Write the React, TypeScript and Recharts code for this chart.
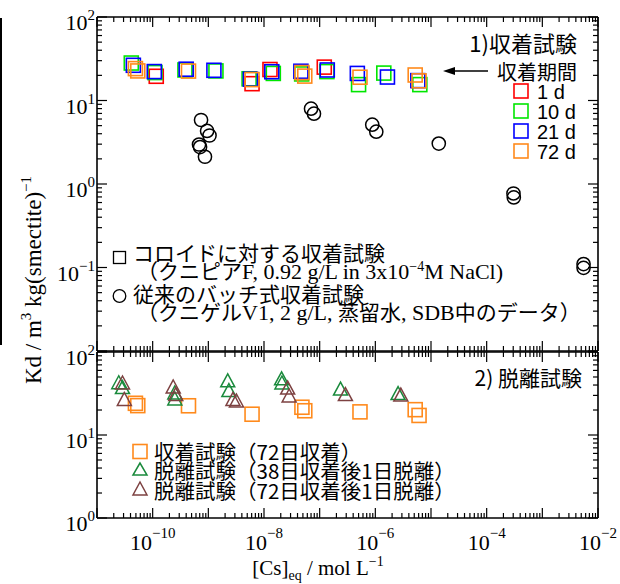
import { ScatterChart, Scatter, XAxis, YAxis } from "recharts";

// 1) sorption test, colloid data (Kd vs equilibrium Cs), one array per contact period
const cs1d = [1.16e-10, 6.1e-9, 1.28e-8, 1.21e-7];
const kd1d = [19.5, 15.9, 23.5, 25.1];
const cs10d = [4.13e-11, 1.1e-10, 3.8e-10, 1.37e-9, 5.4e-9, 1.47e-8, 4.75e-8, 1.35e-7, 5.0e-7, 1.42e-6, 6.3e-6];
const kd10d = [28.1, 21.6, 23.2, 22.6, 18.2, 21.1, 20.8, 22.2, 15.5, 21.3, 15.5];
const cs21d = [4.5e-11, 1.07e-10, 4.0e-10, 1.26e-9, 5.7e-9, 1.38e-8, 4.6e-8, 1.37e-7, 4.75e-7, 1.65e-6, 5.8e-6];
const kd21d = [26.4, 22.2, 23.7, 23.0, 18.0, 22.1, 22.4, 23.2, 21.1, 19.1, 17.3];
const cs72d = [4.9e-11, 5.4e-11, 4.4e-10, 6.1e-9, 4.8e-8, 5.4e-8, 5.3e-7, 5.2e-6, 6.1e-6];
const kd72d = [24.1, 22.6, 22.5, 17.8, 21.6, 19.6, 19.0, 20.2, 17.2];

// conventional batch sorption (SDB)
const csBatch = [7.4e-10, 9.5e-10, 1.05e-9, 6.8e-10, 7.1e-10, 8.7e-10, 7.0e-8, 7.9e-8, 8.8e-7, 1.04e-6, 1.38e-5, 3.03e-4, 3.07e-4, 5.5e-3, 5.5e-3];
const kdBatch = [5.84, 4.32, 3.81, 2.97, 2.77, 2.12, 7.98, 6.95, 5.13, 4.23, 3.05, 0.77, 0.69, 0.11, 0.099];

// 2) desorption test
const csDes38 = [2.46e-11, 2.87e-11, 2.5e-10, 2.5e-10, 2.23e-9, 2.34e-9, 2.07e-8, 2.1e-8, 2.37e-7, 2.56e-6];
const kdDes38 = [42.6, 37.3, 32.1, 27.2, 45.0, 34.3, 47.5, 42.3, 35.8, 31.6];
const csDes72 = [2.87e-11, 3.1e-11, 2.34e-10, 2.6e-10, 2.77e-9, 3.2e-9, 2.66e-8, 2.83e-8, 2.9e-7, 2.87e-6];
const kdDes72 = [42.3, 26.8, 37.9, 30.7, 26.8, 25.7, 36.8, 29.5, 30.7, 30.3];

const periodNames = ["1 d", "10 d", "21 d", "72 d"];
const periodColors = ["#ff0000", "#00e600", "#0000ff", "#ff8a1c"];

const xTickExps = [-11, -10, -9, -8, -7, -6, -5, -4, -3];
const xLabelExps = [-10, -8, -6, -4, -2];
const yTopLabelExps = [2, 1, 0, -1];
const yBotLabelExps = [2, 1, 0];

const SERIF = "'Liberation Serif', 'Times New Roman', serif";
const JP = "'Noto Sans CJK JP', 'Noto Sans', sans-serif";
const SANS = "'Liberation Sans', Arial, sans-serif";

const rows = (xs: number[], ys: number[]) => xs.map((x, i) => ({ x, y: ys[i] }));

function logTicks(from: number, to: number) {
  const out: number[] = [];
  for (let e = from; e < to; e++) {
    for (let k = 1; k <= 9; k++) out.push(Number((k * Math.pow(10, e)).toPrecision(6)));
  }
  out.push(Math.pow(10, to));
  return out;
}

const xTicks = logTicks(xTickExps[0], xTickExps[xTickExps.length - 1] + 1);
const yTopTicks = logTicks(-2, 2);
const yBotTicks = logTicks(0, 2);

const sup = (e: number) => (e < 0 ? "\u2212" + Math.abs(e) : String(e));

function makeTick(side: "top" | "bottom" | "left" | "right", labels: number[]) {
  return (p: any) => {
    const v = p.payload.value;
    const lg = Math.log10(v);
    const e = Math.round(lg);
    const major = Math.abs(lg - e) < 1e-6;
    const len = major ? 10 : 5;
    const { x, y } = p;
    let x2 = x, y2 = y;
    if (side === "bottom") y2 = y - len;
    if (side === "top") y2 = y + len;
    if (side === "left") x2 = x + len;
    if (side === "right") x2 = x - len;
    const show = major && labels.includes(e);
    return (
      <g>
        <line x1={x} y1={y} x2={x2} y2={y2} stroke="#000" strokeWidth={1.2} />
        {show && side === "bottom" && (
          <text x={x} y={y + 32} textAnchor="middle" fontFamily={SERIF} fontSize={22} fill="#000">
            10<tspan dy={-12} fontSize={15}>{sup(e)}</tspan>
          </text>
        )}
        {show && side === "left" && (
          <text x={x - 2} y={y + 13} textAnchor="end" fontFamily={SERIF} fontSize={22} fill="#000">
            10<tspan dy={-10} fontSize={15}>{sup(e)}</tspan>
          </text>
        )}
      </g>
    );
  };
}

const square = (color: string) => (p: any) => (
  <rect x={p.cx - 7} y={p.cy - 7} width={14} height={14} fill="none" stroke={color} strokeWidth={1.6} />
);
const circle = (p: any) => <circle cx={p.cx} cy={p.cy} r={6.6} fill="none" stroke="#000" strokeWidth={1.5} />;
const triangle = (color: string) => (p: any) => (
  <polygon
    points={`${p.cx},${p.cy - 7} ${p.cx - 7},${p.cy + 6} ${p.cx + 7},${p.cy + 6}`}
    fill="none"
    stroke={color}
    strokeWidth={1.5}
  />
);

const axisLine = { stroke: "#000", strokeWidth: 1.6 };
const xDomain: [number, number] = [1e-11, 1e-2];

// axes need a non-zero size to be drawn, so each is 1px
function Frame({ yDomain, yTicks, yLabels, xLabels }: any) {
  return [
    <XAxis key="xb" xAxisId="b" type="number" dataKey="x" scale="log" domain={xDomain} ticks={xTicks}
      allowDataOverflow interval={0} orientation="bottom" height={1} tickSize={0} tickMargin={0}
      axisLine={axisLine} tickLine={false} tick={makeTick("bottom", xLabels)} />,
    <XAxis key="xt" xAxisId="t" type="number" dataKey="x" scale="log" domain={xDomain} ticks={xTicks}
      allowDataOverflow interval={0} orientation="top" height={1} tickSize={0} tickMargin={0}
      axisLine={axisLine} tickLine={false} tick={makeTick("top", [])} />,
    <YAxis key="yl" yAxisId="l" type="number" dataKey="y" scale="log" domain={yDomain} ticks={yTicks}
      allowDataOverflow interval={0} orientation="left" width={1} tickSize={0} tickMargin={0}
      axisLine={axisLine} tickLine={false} tick={makeTick("left", yLabels)} />,
    <YAxis key="yr" yAxisId="r" type="number" dataKey="y" scale="log" domain={yDomain} ticks={yTicks}
      allowDataOverflow interval={0} orientation="right" width={1} tickSize={0} tickMargin={0}
      axisLine={axisLine} tickLine={false} tick={makeTick("right", [])} />,
  ];
}

const periodData = [rows(cs1d, kd1d), rows(cs10d, kd10d), rows(cs21d, kd21d), rows(cs72d, kd72d)];

export default function App() {
  return (
    <div style={{ position: "absolute", left: 0, top: 0, width: 620, height: 584, background: "#fff", overflow: "hidden" }}>
      <div style={{ position: "absolute", left: 0, top: 0 }}>
        <ScatterChart width={620} height={584} margin={{ top: 16, right: 21, bottom: 232, left: 96 }}>
          {Frame({ yDomain: [0.01, 100], yTicks: yTopTicks, yLabels: yTopLabelExps, xLabels: [] })}
          {periodData.map((d, i) => (
            <Scatter key={i} xAxisId="b" yAxisId="l" data={d} shape={square(periodColors[i])} isAnimationActive={false} />
          ))}
          <Scatter xAxisId="b" yAxisId="l" data={rows(csBatch, kdBatch)} shape={circle} isAnimationActive={false} />
        </ScatterChart>
      </div>
      <div style={{ position: "absolute", left: 0, top: 0 }}>
        <ScatterChart width={620} height={584} margin={{ top: 351, right: 21, bottom: 65, left: 96 }}>
          {Frame({ yDomain: [1, 100], yTicks: yBotTicks, yLabels: yBotLabelExps, xLabels: xLabelExps })}
          <Scatter xAxisId="b" yAxisId="l" data={rows(cs72d, kd72d)} shape={square(periodColors[3])} isAnimationActive={false} />
          <Scatter xAxisId="b" yAxisId="l" data={rows(csDes38, kdDes38)} shape={triangle("#1a8a3c")} isAnimationActive={false} />
          <Scatter xAxisId="b" yAxisId="l" data={rows(csDes72, kdDes72)} shape={triangle("#7d4141")} isAnimationActive={false} />
        </ScatterChart>
      </div>
      <svg width={620} height={584} style={{ position: "absolute", left: 0, top: 0, pointerEvents: "none" }}>
        <rect x={0} y={18} width={2} height={327} fill="#000" />
        {/* axis titles */}
        <text transform="translate(41,280) rotate(-90)" textAnchor="middle" fontFamily={SERIF} fontSize={23} fill="#000">
          Kd / m<tspan dy={-10} fontSize={15}>3</tspan>
          <tspan dy={10}> kg(smectite)</tspan>
          <tspan dy={-10} fontSize={15}>{"\u22121"}</tspan>
        </text>
        <text x={318} y={575} textAnchor="middle" fontFamily={SERIF} fontSize={21} fill="#000">
          [Cs]<tspan dy={5} fontSize={14}>eq</tspan>
          <tspan dy={-5}> / mol L</tspan>
          <tspan dy={-9} fontSize={14}>{"\u22121"}</tspan>
        </text>

        {/* panel 1 annotations */}
        <text x={577} y={52} textAnchor="end" fontFamily={JP} fontSize={22} fill="#000">1)収着試験</text>
        <text x={577} y={80} textAnchor="end" fontFamily={JP} fontSize={20} fill="#000">収着期間</text>
        <line x1={488} y1={71} x2={452} y2={71} stroke="#000" strokeWidth={1.3} />
        <polygon points="443,71 455,67 455,75" fill="#000" />
        {periodNames.map((n, i) => (
          <g key={n}>
            <rect x={514} y={84 + i * 20} width={14} height={14} fill="none" stroke={periodColors[i]} strokeWidth={1.6} />
            <text x={537} y={99 + i * 20} fontFamily={SANS} fontSize={20} fill="#000">{n}</text>
          </g>
        ))}
        <rect x={113.5} y={251.5} width={12} height={12} fill="none" stroke="#000" strokeWidth={1.3} />
        <text x={133} y={261} fontFamily={JP} fontSize={21} fill="#000">コロイドに対する収着試験</text>
        <text x={137} y={279} fontSize={21} fill="#000">
          <tspan fontFamily={JP}>（クニピア</tspan>
          <tspan fontFamily={SERIF} fontSize={22}>F, 0.92 g/L in 3x10</tspan>
          <tspan fontFamily={SERIF} fontSize={14} dy={-8}>{"\u22124"}</tspan>
          <tspan fontFamily={SERIF} fontSize={22} dy={8}>M NaCl)</tspan>
        </text>
        <circle cx={119.5} cy={296} r={6.3} fill="none" stroke="#000" strokeWidth={1.3} />
        <text x={133} y={302} fontFamily={JP} fontSize={21} fill="#000">従来のバッチ式収着試験</text>
        <text x={137} y={320} fontSize={21} fill="#000">
          <tspan fontFamily={JP}>（クニゲル</tspan>
          <tspan fontFamily={SERIF} fontSize={22}>V1, 2 g/L, </tspan>
          <tspan fontFamily={JP}>蒸留水</tspan>
          <tspan fontFamily={SERIF} fontSize={22}>, SDB</tspan>
          <tspan fontFamily={JP}>中のデータ）</tspan>
        </text>

        {/* panel 2 annotations */}
        <text x={582} y={386} textAnchor="end" fontFamily={JP} fontSize={21} fill="#000">2) 脱離試験</text>
        <rect x={133} y={444.5} width={14} height={14} fill="none" stroke={periodColors[3]} strokeWidth={1.6} />
        <text x={154} y={460} fontFamily={JP} fontSize={20.5} fill="#000">収着試験（72日収着）</text>
        <polygon points="140,463 133,475 147,475" fill="none" stroke="#1a8a3c" strokeWidth={1.5} />
        <text x={154} y={479} fontFamily={JP} fontSize={20.5} fill="#000">脱離試験（38日収着後1日脱離）</text>
        <polygon points="140,482 133,495 147,495" fill="none" stroke="#7d4141" strokeWidth={1.5} />
        <text x={154} y={499} fontFamily={JP} fontSize={20.5} fill="#000">脱離試験（72日収着後1日脱離）</text>
      </svg>
    </div>
  );
}
